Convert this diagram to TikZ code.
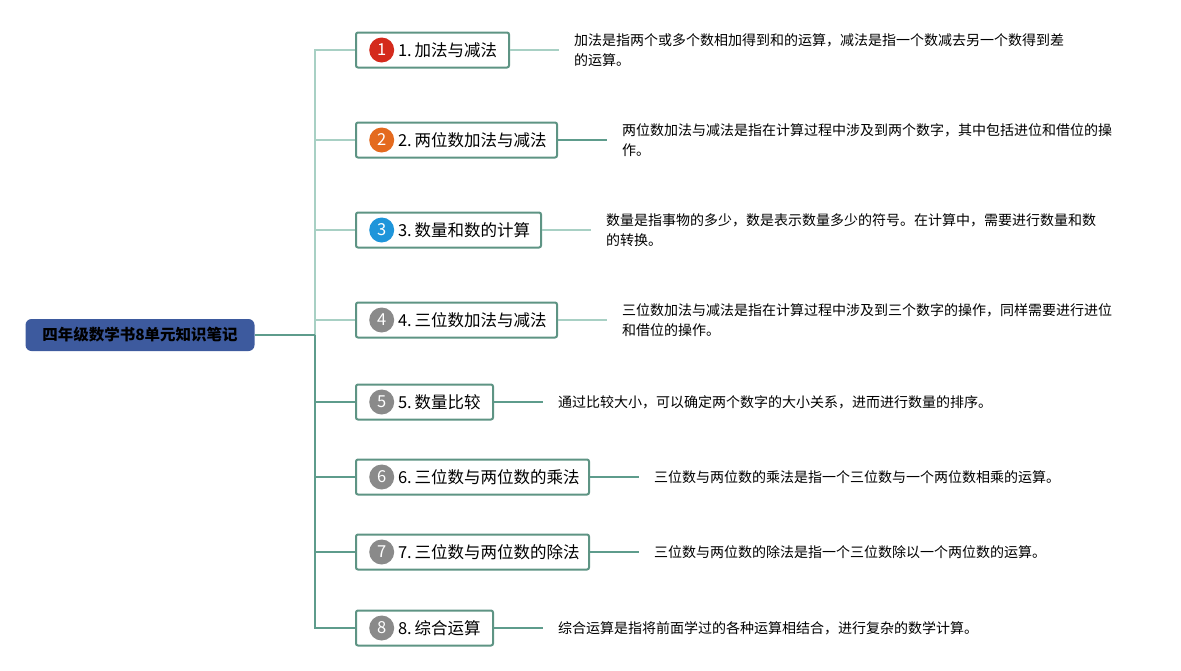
\documentclass[tikz,border=0pt]{standalone}
\usepackage{fontspec}
\setmainfont{Noto Sans CJK SC}
\usepackage{tikz}
\usetikzlibrary{positioning}
\definecolor{rootblue}{HTML}{3D5A9E}
\definecolor{boxline}{HTML}{5E9484}
\definecolor{darkline}{HTML}{5E9C8C}
\definecolor{lightline}{HTML}{A8D0C4}
\definecolor{iconred}{HTML}{D42A1C}
\definecolor{iconorange}{HTML}{E46A1E}
\definecolor{iconblue}{HTML}{1E95DA}
\definecolor{icongray}{HTML}{8A8A8A}
\newcommand{\topicfont}{\fontsize{16.5}{20}\selectfont}
\newcommand{\notefont}{\fontsize{14}{20}\selectfont}
\newcommand{\num}[1]{\hspace*{42pt}#1.\hspace{3pt}}

\begin{document}
\begin{tikzpicture}[x=1pt,y=-1pt]
\tikzstyle{root}=[rounded corners=6pt, fill=rootblue, text=black, minimum width=229pt, minimum height=32pt, font=\fontsize{15.5}{18}\selectfont\bfseries]
\tikzstyle{topic}=[draw=boxline, line width=2pt, rounded corners=2pt, fill=white, anchor=west, minimum height=35pt, inner xsep=0pt, align=left, text width=#1, font=\topicfont]
\tikzstyle{icon}=[circle, fill=#1, text=white, minimum size=25pt, inner sep=0pt, font=\topicfont]
\tikzstyle{note}=[align=left, inner xsep=15pt, font=\notefont]
\tikzstyle{lightlink}=[lightline, line width=1.5pt]
\tikzstyle{darklink}=[darkline, line width=1.5pt]
\useasboundingbox (0,0) rectangle (1181,670);

\draw node at (140,335) [root] (Root) {四年级数学书8单元知识笔记};
\coordinate (Trunk) at (315,335);

\draw node at (355,50) [topic=153pt] (AddSub) {\num{1}加法与减法};
\draw node at (355,140) [topic=201pt] (TwoAddSub) {\num{2}两位数加法与减法};
\draw node at (355,230) [topic=185pt] (Quantity) {\num{3}数量和数的计算};
\draw node at (355,320) [topic=201pt] (ThreeAddSub) {\num{4}三位数加法与减法};
\draw node at (355,402) [topic=137pt] (Compare) {\num{5}数量比较};
\draw node at (355,477) [topic=233pt] (Multiply) {\num{6}三位数与两位数的乘法};
\draw node at (355,552) [topic=233pt] (Divide) {\num{7}三位数与两位数的除法};
\draw node at (355,628) [topic=137pt] (Mixed) {\num{8}综合运算};

\draw node [icon=iconred,right=14pt of AddSub.west] (AddSubIcon) {1};
\draw node [icon=iconorange,right=14pt of TwoAddSub.west] (TwoAddSubIcon) {2};
\draw node [icon=iconblue,right=14pt of Quantity.west] (QuantityIcon) {3};
\draw node [icon=icongray,right=14pt of ThreeAddSub.west] (ThreeAddSubIcon) {4};
\draw node [icon=icongray,right=14pt of Compare.west] (CompareIcon) {5};
\draw node [icon=icongray,right=14pt of Multiply.west] (MultiplyIcon) {6};
\draw node [icon=icongray,right=14pt of Divide.west] (DivideIcon) {7};
\draw node [icon=icongray,right=14pt of Mixed.west] (MixedIcon) {8};

\draw node [note,right=49pt of AddSub] (AddSubNote) {加法是指两个或多个数相加得到和的运算，减法是指一个数减去另一个数得到差\\的运算。};
\draw node [note,right=49pt of TwoAddSub] (TwoAddSubNote) {两位数加法与减法是指在计算过程中涉及到两个数字，其中包括进位和借位的操\\作。};
\draw node [note,right=49pt of Quantity] (QuantityNote) {数量是指事物的多少，数是表示数量多少的符号。在计算中，需要进行数量和数\\的转换。};
\draw node [note,right=49pt of ThreeAddSub] (ThreeAddSubNote) {三位数加法与减法是指在计算过程中涉及到三个数字的操作，同样需要进行进位\\和借位的操作。};
\draw node [note,right=49pt of Compare] (CompareNote) {通过比较大小，可以确定两个数字的大小关系，进而进行数量的排序。};
\draw node [note,right=49pt of Multiply] (MultiplyNote) {三位数与两位数的乘法是指一个三位数与一个两位数相乘的运算。};
\draw node [note,right=49pt of Divide] (DivideNote) {三位数与两位数的除法是指一个三位数除以一个两位数的运算。};
\draw node [note,right=49pt of Mixed] (MixedNote) {综合运算是指将前面学过的各种运算相结合，进行复杂的数学计算。};

\draw [lightlink] (Trunk) |- (AddSub.west);
\draw [lightlink] (Trunk) |- (TwoAddSub.west);
\draw [lightlink] (Trunk) |- (Quantity.west);
\draw [lightlink] (Trunk) |- (ThreeAddSub.west);
\draw [darklink] (Trunk) |- (Compare.west);
\draw [darklink] (Trunk) |- (Multiply.west);
\draw [darklink] (Trunk) |- (Divide.west);
\draw [darklink] (Trunk) |- (Mixed.west);
\draw [darkline, line width=2.5pt] (Root.east) -- (Trunk);

\draw [lightlink] (AddSub) -- (AddSubNote);
\draw [darklink] (TwoAddSub) -- (TwoAddSubNote);
\draw [lightlink] (Quantity) -- (QuantityNote);
\draw [lightlink] (ThreeAddSub) -- (ThreeAddSubNote);
\draw [darklink] (Compare) -- (CompareNote);
\draw [darklink] (Multiply) -- (MultiplyNote);
\draw [darklink] (Divide) -- (DivideNote);
\draw [darklink] (Mixed) -- (MixedNote);
\end{tikzpicture}
\end{document}
